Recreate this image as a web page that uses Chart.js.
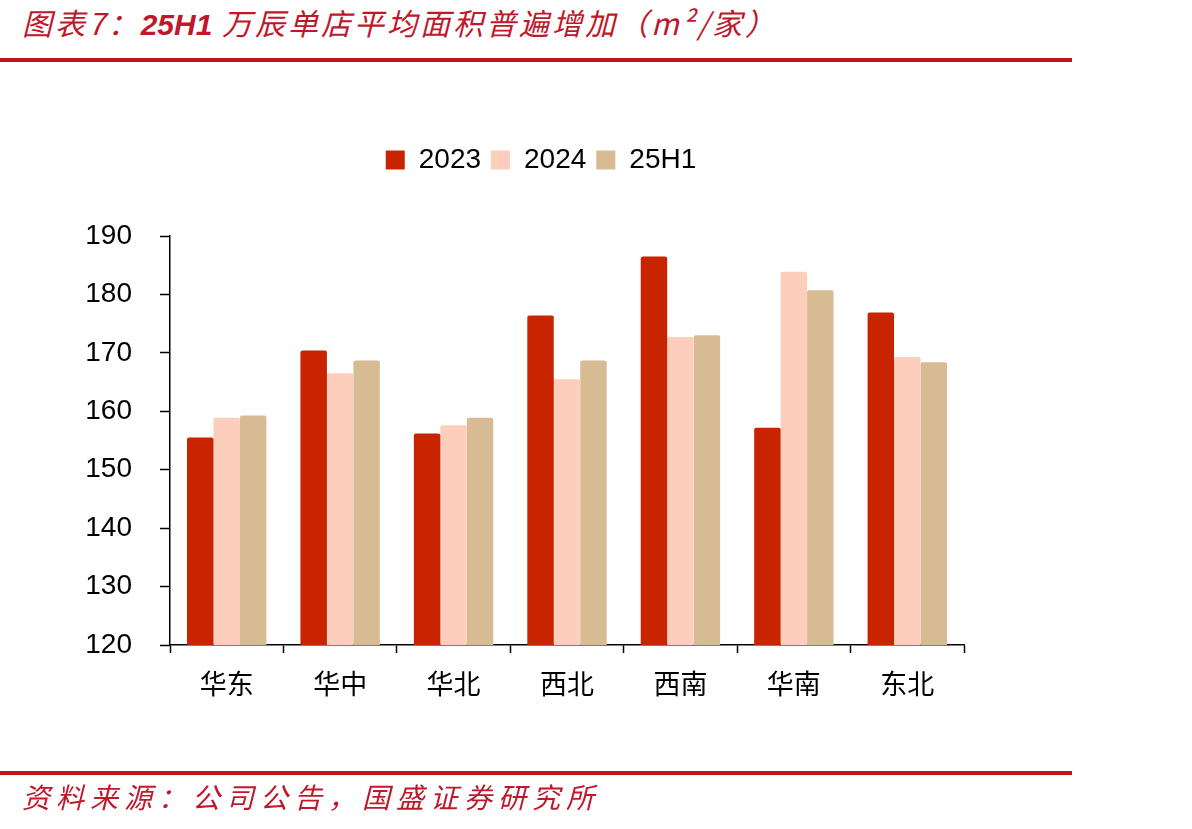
<!DOCTYPE html>
<html lang="zh">
<head>
    <meta charset="UTF-8">
    <title>万辰单店平均面积</title>
    <script src="https://cdn.jsdelivr.net/npm/chart.js"></script>
    <style>
        body {
            margin: 0;
            width: 1192px;
            height: 829px;
            background: #fff;
            position: relative;
            overflow: hidden;
        }
        #chart {
            position: absolute;
            left: 0;
            top: 0;
        }
        .title, .source {
            position: absolute;
            left: 22px;
            color: #c0172b;
            font-family: "Noto Sans CJK SC", sans-serif;
            font-style: italic;
            white-space: nowrap;
        }
        .title {
            top: 0px;
            font-size: 30px;
            letter-spacing: 3px;
        }
        .title b {
            font-family: "Liberation Sans", sans-serif;
            font-weight: bold;
            letter-spacing: 0;
        }
        .source {
            top: 776px;
            font-size: 28px;
            letter-spacing: 6px;
        }
        .rule {
            position: absolute;
            left: 0;
            width: 1072px;
            height: 4px;
            background: #c0141f;
        }
    </style>
</head>
<body>
    <div class="title">图表7：<b>25H1</b> 万辰单店平均面积普遍增加（m²/家）</div>
    <div class="rule" style="top:58px"></div>
    <canvas id="chart" width="1192" height="829"></canvas>
    <div class="rule" style="top:771px"></div>
    <div class="source">资料来源：公司公告，国盛证券研究所</div>

    <script>
        // 各区域单店平均面积（m²/家）
        const regions = ['华东', '华中', '华北', '西北', '西南', '华南', '东北'];
        const area2023 = [155.5, 170.4, 156.2, 176.4, 186.5, 157.2, 176.9];
        const area2024 = [158.9, 166.5, 157.6, 165.5, 172.7, 183.9, 169.3];
        const area25H1 = [159.3, 168.7, 158.9, 168.7, 173.0, 180.7, 168.4];

        const numFont = { family: 'Liberation Sans', size: 28 };

        // push the plot area down below the legend, and nudge the legend right
        const legendTweak = {
            id: 'legendTweak',
            beforeInit(chart) {
                const fit = chart.legend.fit;
                chart.legend.fit = function () {
                    fit.bind(chart.legend)();
                    this.height += 52;
                };
            },
            afterLayout(chart) {
                chart.legend.left += 29;
                chart.legend.right += 29;
            }
        };

        new Chart(document.getElementById('chart'), {
            type: 'bar',
            data: {
                labels: regions,
                datasets: [
                    { label: '2023', data: area2023, backgroundColor: '#c82400' },
                    { label: '2024', data: area2024, backgroundColor: '#fdcebb' },
                    { label: '25H1', data: area25H1, backgroundColor: '#d7bb92' }
                ]
            },
            options: {
                responsive: false,
                animation: false,
                layout: { padding: { left: 60, right: 228, top: 136, bottom: 124 } },
                datasets: {
                    bar: { categoryPercentage: 0.7, barPercentage: 1, borderRadius: 2 }
                },
                plugins: {
                    legend: {
                        position: 'top',
                        labels: {
                            color: '#000',
                            font: numFont,
                            boxWidth: 19,
                            boxHeight: 19,
                            padding: 10
                        }
                    },
                    tooltip: { enabled: false }
                },
                scales: {
                    x: {
                        grid: {
                            display: true,
                            drawOnChartArea: false,
                            drawTicks: true,
                            tickLength: 8,
                            tickColor: '#000',
                            tickWidth: 1.5
                        },
                        border: { color: '#000', width: 1.5 },
                        ticks: {
                            color: '#000',
                            padding: 15,
                            font: { family: 'Noto Sans CJK SC', size: 27 }
                        },
                        afterFit(scale) { scale.height = 60; }
                    },
                    y: {
                        min: 120,
                        max: 190,
                        grid: {
                            display: true,
                            drawOnChartArea: false,
                            drawTicks: true,
                            tickLength: 10,
                            tickColor: '#000',
                            tickWidth: 1.5
                        },
                        border: { color: '#000', width: 1.5 },
                        ticks: {
                            stepSize: 10,
                            color: '#000',
                            padding: 28,
                            font: numFont
                        },
                        afterFit(scale) { scale.width = 110; }
                    }
                }
            },
            plugins: [legendTweak]
        });
    </script>
</body>
</html>
